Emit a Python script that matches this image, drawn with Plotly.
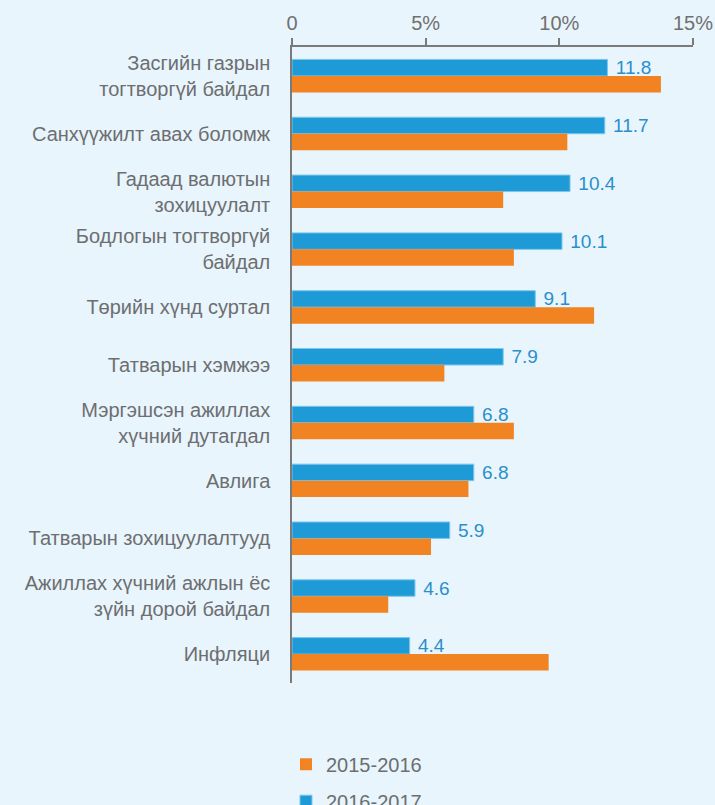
import plotly.graph_objects as go

categories = [
    "Засгийн газрын<br>тогтворгүй байдал",
    "Санхүүжилт авах боломж",
    "Гадаад валютын<br>зохицуулалт",
    "Бодлогын тогтворгүй<br>байдал",
    "Төрийн хүнд суртал",
    "Татварын хэмжээ",
    "Мэргэшсэн ажиллах<br>хүчний дутагдал",
    "Авлига",
    "Татварын зохицуулалтууд",
    "Ажиллах хүчний ажлын ёс<br>зүйн дорой байдал",
    "Инфляци",
]
values_2016_2017 = [11.8, 11.7, 10.4, 10.1, 9.1, 7.9, 6.8, 6.8, 5.9, 4.6, 4.4]
values_2015_2016 = [13.8, 10.3, 7.9, 8.3, 11.3, 5.7, 8.3, 6.6, 5.2, 3.6, 9.6]
tick_vals = [0, 5, 10, 15]
tick_text = ["0", "5%", "10%", "15%"]

BLUE = "#1e9ad6"
ORANGE = "#f28322"
GREY = "#6d6e71"
BG = "#e8f5fc"
FONT = "Liberation Sans, Arial, sans-serif"

fig = go.Figure()
fig.add_trace(go.Bar(
    y=categories, x=values_2016_2017, orientation="h", name="2016-2017",
    legendgroup="b", legendrank=2,
    marker=dict(color=BLUE, line=dict(color="#7cc6ee", width=1)),
    text=["\u00a0" + f"{v:.1f}" for v in values_2016_2017],
    textposition="outside", cliponaxis=False, constraintext="none",
    textfont=dict(color="#2a8fcc", size=19, family=FONT),
))
fig.add_trace(go.Bar(
    y=categories, x=values_2015_2016, orientation="h", name="2015-2016",
    legendgroup="a", legendrank=1,
    marker=dict(color=ORANGE, line=dict(width=0)),
))

fig.update_layout(
    width=715, height=805,
    margin=dict(l=292, r=22, t=47, b=122, autoexpand=False),
    paper_bgcolor=BG, plot_bgcolor=BG,
    barmode="group", bargap=0.43, bargroupgap=0,
    font=dict(family=FONT, color=GREY, size=20),
    showlegend=True,
    legend=dict(
        x=-0.015, xanchor="left", y=-0.097, yanchor="top",
        traceorder="grouped", tracegroupgap=8,
        font=dict(size=20, color=GREY, family=FONT),
        bgcolor="rgba(0,0,0,0)",
    ),
    xaxis=dict(
        side="top", range=[0, 15], tickvals=tick_vals, ticktext=tick_text,
        showgrid=False, zeroline=False, showline=True, linecolor="#7a7a7a",
        linewidth=1.5, ticks="outside", ticklen=7, tickcolor="#7a7a7a",
        tickwidth=1.5, tickfont=dict(size=20, color="#707070"),
    ),
    yaxis=dict(
        autorange="reversed", showgrid=False, zeroline=False,
        showline=True, linecolor="#7a7a7a", linewidth=1.5, ticks="",
        ticklabelstandoff=16, tickfont=dict(size=20, color=GREY),
    ),
)

fig.write_html("out.html")
